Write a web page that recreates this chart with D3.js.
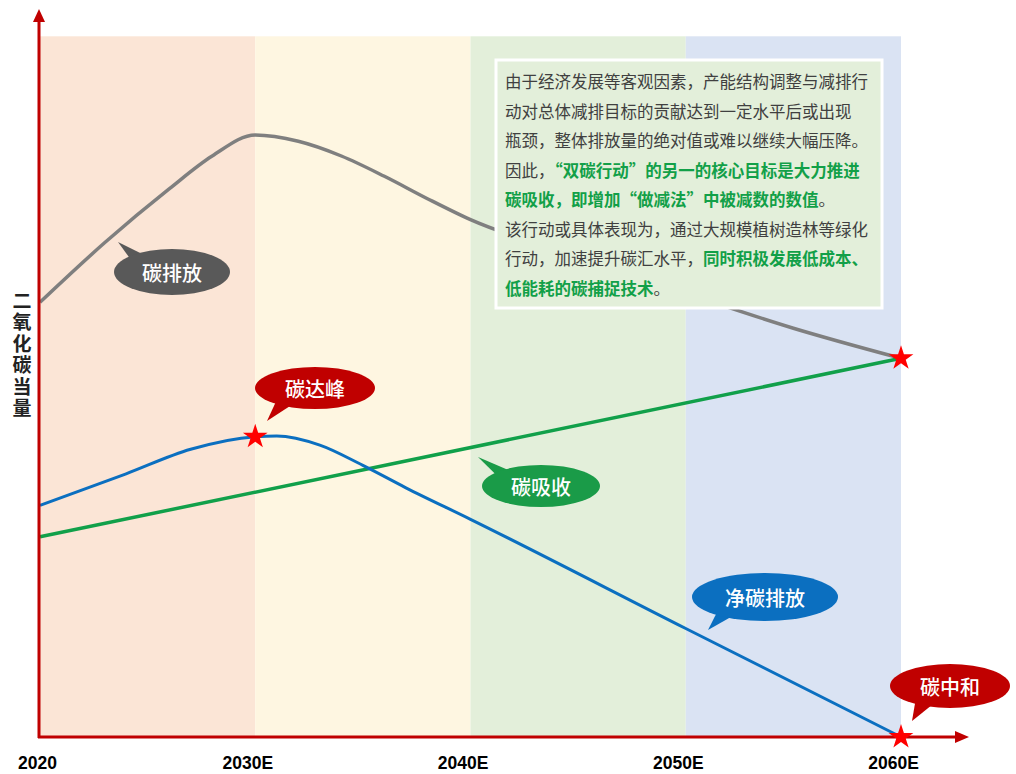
<!DOCTYPE html>
<html><head><meta charset="utf-8">
<script src="https://cdn.jsdelivr.net/npm/d3@7"></script>
<style>
html,body{margin:0;padding:0;background:#fff;}
svg{display:block;}
</style></head>
<body>
<svg id="c" width="1016" height="774"></svg>
<script>
// ---- data ----
const bandYears = [2020, 2030, 2040, 2050, 2060];
const bandColors = ["#FBE5D6", "#FEF6E1", "#E3EFDA", "#DAE3F3"];
const tickYears = [2020, 2030, 2040, 2050, 2060];
const tickLabels = ["2020", "2030E", "2040E", "2050E", "2060E"];

const emissionYears = [2020, 2023, 2026, 2028, 2030, 2032, 2034, 2036, 2038, 2040, 2045, 2050, 2055, 2060];
const emissionVals  = [62.1, 70.6, 78.3, 83.0, 86.0, 85.1, 83.0, 80.1, 76.9, 73.9, 68.6, 63.4, 58.4, 54.1];

const netYears = [2020, 2024, 2027, 2030, 2031, 2033, 2035, 2037, 2040, 2050, 2060];
const netVals  = [33.1, 37.6, 41.1, 42.9, 43.0, 41.7, 38.8, 35.6, 31.1, 15.5, 0];

const absorbYears = [2020, 2060];
const absorbVals  = [28.6, 54.1];

const starYears = [2030, 2060, 2060];
const starVals  = [42.9, 54.1, 0];

const yAxisLabel = "二氧化碳当量";

const noteLines = [
  [["由于经济发展等客观因素，产能结构调整与减排行", 0]],
  [["动对总体减排目标的贡献达到一定水平后或出现", 0]],
  [["瓶颈，整体排放量的绝对值或难以继续大幅压降。", 0]],
  [["因此，", 0], ["“双碳行动”的另一的核心目标是大力推进", 1]],
  [["碳吸收，即增加“做减法”中被减数的数值", 1], ["。", 0]],
  [["该行动或具体表现为，通过大规模植树造林等绿化", 0]],
  [["行动，加速提升碳汇水平，", 0], ["同时积极发展低成本、", 1]],
  [["低能耗的碳捕捉技术", 1], ["。", 0]]
];

// ---- drawing ----
const svg = d3.select("#c");
const x = d3.scaleLinear().domain([2020, 2060]).range([40, 901]);
const y = d3.scaleLinear().domain([0, 100]).range([737, 37]);
const axisRed = "#C00000";
const cjk = "'Noto Sans CJK SC', 'Noto Sans', sans-serif";

// bands
svg.append("g").selectAll("rect")
  .data(bandColors)
  .join("rect")
  .attr("x", (d, i) => x(bandYears[i]))
  .attr("width", (d, i) => x(bandYears[i + 1]) - x(bandYears[i]))
  .attr("y", y(100.1))
  .attr("height", y(0) - y(100.1))
  .attr("fill", d => d);

// lines
const line = d3.line().x(d => x(d[0])).y(d => y(d[1])).curve(d3.curveMonotoneX);
function drawLine(xs, vs, color, w) {
  svg.append("path")
    .datum(xs.map((t, i) => [t, vs[i]]))
    .attr("d", line)
    .attr("fill", "none")
    .attr("stroke", color)
    .attr("stroke-width", w)
    .attr("stroke-linejoin", "round");
}
drawLine(emissionYears, emissionVals, "#7F7F7F", 3.5);
drawLine(absorbYears, absorbVals, "#11A04A", 3.5);
drawLine(netYears, netVals, "#0B6FC0", 3);

// axes
const ax = svg.append("g");
ax.append("line").attr("x1", x(2020) - 1).attr("x2", x(2020) - 1)
  .attr("y1", y(0) + 1).attr("y2", 20)
  .attr("stroke", axisRed).attr("stroke-width", 3);
ax.append("path")
  .attr("d", `M${x(2020)-7},22 L${x(2020)-1},9 L${x(2020)+5},22 Z`)
  .attr("fill", axisRed);
ax.append("line").attr("x1", x(2020) - 2).attr("x2", 958)
  .attr("y1", y(0)).attr("y2", y(0))
  .attr("stroke", axisRed).attr("stroke-width", 3);
ax.append("path")
  .attr("d", `M955,${y(0)-6} L969,${y(0)} L955,${y(0)+6} Z`)
  .attr("fill", axisRed);

// x tick labels
const xAxis = d3.axisBottom(x)
  .tickValues(tickYears)
  .tickFormat((d, i) => tickLabels[i])
  .tickSize(0)
  .tickPadding(0);
const gx = svg.append("g").attr("transform", `translate(0,${y(0)})`).call(xAxis);
gx.select(".domain").remove();
gx.selectAll("text")
  .attr("y", 32)
  .attr("dy", 0)
  .attr("font-family", "'Liberation Sans', Arial, sans-serif")
  .attr("font-weight", "bold")
  .attr("font-size", 17.5)
  .attr("fill", "#000")
  .attr("dx", (d, i) => i === 0 ? -3 : -8);

// y axis label (vertical)
svg.append("text")
  .attr("x", 22)
  .attr("y", 291)
  .attr("font-family", cjk)
  .attr("font-weight", "bold")
  .attr("font-size", 19)
  .attr("fill", "#222")
  .style("writing-mode", "vertical-rl")
  .style("text-orientation", "upright")
  .style("letter-spacing", "2.5px")
  .text(yAxisLabel);

// stars
svg.append("g").selectAll("path")
  .data(starYears.map((t, i) => [t, starVals[i]]))
  .join("path")
  .attr("transform", d => `translate(${x(d[0])},${y(d[1])})`)
  .attr("d", d3.symbol(d3.symbolStar, 190))
  .attr("fill", "#FF0000");

// speech bubbles
function bubble(cx, cy, rx, ry, tx, ty, color, text, fs) {
  const g = svg.append("g");
  const ang = Math.atan2(ty - cy, tx - cx);
  const b1 = [cx + rx * 0.55 * Math.cos(ang + 0.55), cy + ry * 0.55 * Math.sin(ang + 0.55)];
  const b2 = [cx + rx * 0.55 * Math.cos(ang - 0.55), cy + ry * 0.55 * Math.sin(ang - 0.55)];
  g.append("path")
    .attr("d", `M${b1[0]},${b1[1]} L${tx},${ty} L${b2[0]},${b2[1]} Z`)
    .attr("fill", color);
  g.append("ellipse").attr("cx", cx).attr("cy", cy).attr("rx", rx).attr("ry", ry).attr("fill", color);
  g.append("text").attr("x", cx).attr("y", cy)
    .attr("text-anchor", "middle").attr("dominant-baseline", "central")
    .attr("font-family", cjk).attr("font-size", fs).attr("font-weight", "500")
    .attr("fill", "#fff").text(text);
}
bubble(172, 272, 58, 23, 118, 242, "#595959", "碳排放", 20);
bubble(315, 388, 60, 21, 267, 421, "#C00000", "碳达峰", 20);
bubble(541, 486, 59, 21, 478, 457, "#1A9B48", "碳吸收", 20);
bubble(765, 597, 73, 24, 708, 630, "#0B6FC0", "净碳排放", 20);
bubble(950, 686, 60, 22, 912, 721, "#C00000", "碳中和", 20);

// note box
const note = svg.append("g");
note.append("rect")
  .attr("x", 496).attr("y", 60).attr("width", 386).attr("height", 248)
  .attr("fill", "#E3EFDA").attr("stroke", "#fff").attr("stroke-width", 3);
noteLines.forEach((segs, i) => {
  const t = note.append("text")
    .attr("x", 505).attr("y", 81 + i * 29.5)
    .attr("dominant-baseline", "central")
    .attr("font-family", cjk)
    .attr("font-size", 16.5);
  segs.forEach(([s, hl]) => {
    t.append("tspan").text(s)
      .attr("fill", hl ? "#12A048" : "#404040")
      .attr("font-weight", hl ? "bold" : "normal");
  });
});
</script>
</body></html>
